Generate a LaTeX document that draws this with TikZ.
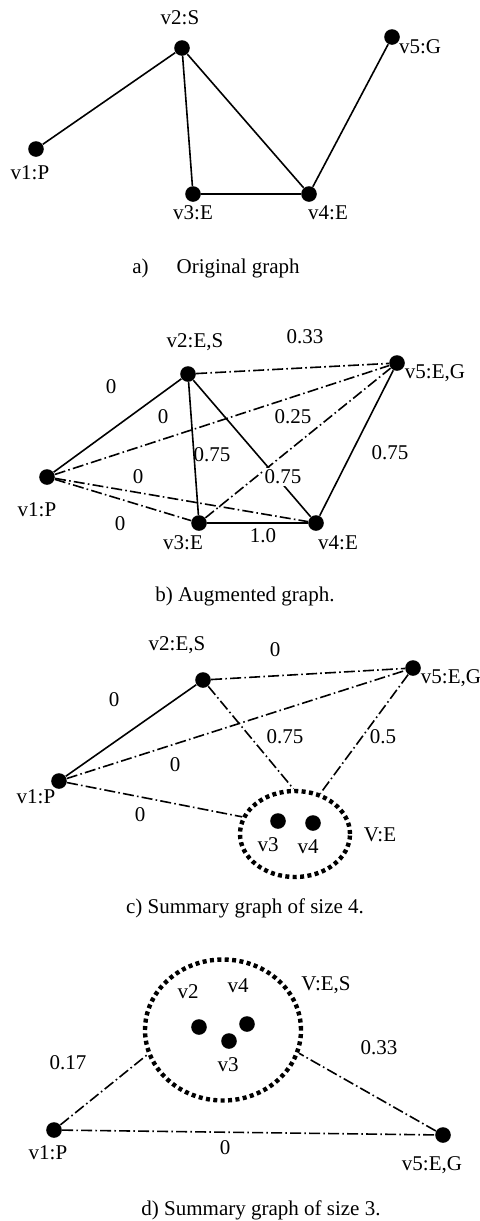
\documentclass[tikz,border=0pt]{standalone}
\usepackage{fontspec}
\setmainfont{Liberation Serif}
\usetikzlibrary{shapes.geometric}
\tikzset{
  vtx/.style={circle,fill,inner sep=0pt,minimum size=7.8pt},
  sline/.style={line width=0.8pt},
  dline/.style={line width=0.8pt,dash pattern=on 5.5pt off 1.6pt on 0.8pt off 1.6pt},
  grp/.style={ellipse,draw,line width=2.2pt,dash pattern=on 2pt off 1.7pt,inner sep=0pt},
}
\begin{document}
\begin{tikzpicture}[x=0.5pt,y=-0.5pt,font=\fontsize{10.5}{12.6}\selectfont]
\useasboundingbox (0,0) rectangle (480,1221);

% a) original graph
\node[vtx] (a1) at (36,149) {};
\node[vtx] (a2) at (182,48) {};
\node[vtx] (a3) at (193,194) {};
\node[vtx] (a4) at (309,194) {};
\node[vtx] (a5) at (392,37) {};
\node (a1l) at (30,173) {v1:P};
\node (a2l) at (180,18) {v2:S};
\node (a3l) at (193,213) {v3:E};
\node (a4l) at (328,213) {v4:E};
\node (a5l) at (420,47) {v5:G};
\draw[sline] (a1) -- (a2);
\draw[sline] (a2) -- (a3);
\draw[sline] (a2) -- (a4);
\draw[sline] (a3) -- (a4);
\draw[sline] (a4) -- (a5);
\node (acap) at (216,268) {a)\hspace{14pt}Original graph};

% b) augmented graph
\node[vtx] (b1) at (47,477) {};
\node[vtx] (b2) at (188,374) {};
\node[vtx] (b3) at (199,523) {};
\node[vtx] (b4) at (316,523) {};
\node[vtx] (b5) at (397,363) {};
\node (b1l) at (37,510) {v1:P};
\node (b2l) at (195,342) {v2:E,S};
\node (b3l) at (183,543) {v3:E};
\node (b4l) at (338,543) {v4:E};
\node (b5l) at (435,373) {v5:E,G};
\draw[sline] (b1) -- (b2);
\draw[sline] (b2) -- (b3);
\draw[sline] (b2) -- (b4);
\draw[sline] (b3) -- (b4);
\draw[sline] (b4) -- (b5);
\draw[dline] (b2) -- (b5);
\draw[dline] (b1) -- (b5);
\draw[dline] (b1) -- (b4);
\draw[dline] (b1) -- (b3);
\draw[dline] (b3) -- (b5);
\node (bw12) at (111,387) {0};
\node (bw25) at (305,337) {0.33};
\node (bw15) at (163,417) {0};
\node (bw35) at (293,417) {0.25};
\node (bw23) at (212,455) {0.75};
\node (bw45) at (390,453) {0.75};
\node (bw14) at (138,477) {0};
\node[fill=white,inner sep=1pt] (bw24) at (283,477) {0.75};
\node (bw13) at (120,524) {0};
\node (bw34) at (263,536) {1.0};
\node (bcap) at (245,596) {b) Augmented graph.};

% c) summary graph of size 4
\node[vtx] (c1) at (59,781) {};
\node[vtx] (c2) at (203,680) {};
\node[vtx] (c5) at (413,668) {};
\node[grp,minimum width=55pt,minimum height=43pt] (ce) at (295,834) {};
\node[vtx] (c3) at (278,821) {};
\node[vtx] (c4) at (313,823) {};
\node (c1l) at (36,797) {v1:P};
\node (c2l) at (177,645) {v2:E,S};
\node (c5l) at (451,678) {v5:E,G};
\node (c3l) at (268,845) {v3};
\node (c4l) at (308,847) {v4};
\node (cel) at (380,835) {V:E};
\draw[sline] (c1) -- (c2);
\draw[dline] (c2) -- (c5);
\draw[dline] (c1) -- (c5);
\draw[dline] (c2) -- (ce.92);
\draw[dline] (c5) -- (ce.58);
\draw[dline] (c1) -- (ce.162);
\node (cw25) at (275,650) {0};
\node (cw12) at (114,700) {0};
\node (cw2e) at (285,737) {0.75};
\node (cw5e) at (383,737) {0.5};
\node (cw15) at (175,765) {0};
\node (cw1e) at (140,815) {0};
\node (ccap) at (245,908) {c) Summary graph of size 4.};

% d) summary graph of size 3
\node[grp,minimum width=78pt,minimum height=70.5pt] (de) at (223,1030) {};
\node[vtx] (d2) at (199,1027) {};
\node[vtx] (d3) at (229,1041) {};
\node[vtx] (d4) at (247,1024) {};
\node[vtx] (d1) at (54,1130) {};
\node[vtx] (d5) at (443,1135) {};
\node (d2l) at (188,992) {v2};
\node (d4l) at (238,986) {v4};
\node (d3l) at (228,1065) {v3};
\node (del) at (326,985) {V:E,S};
\node (d1l) at (48,1153) {v1:P};
\node (d5l) at (432,1165) {v5:E,G};
\draw[dline] (d1) -- (de.198);
\draw[dline] (d5) -- (de.-17);
\draw[dline] (d1) -- (d5);
\node (dw1e) at (68,1063) {0.17};
\node (dw5e) at (379,1048) {0.33};
\node (dw15) at (225,1148) {0};
\node (dcap) at (261,1210) {d) Summary graph of size 3.};
\end{tikzpicture}
\end{document}
